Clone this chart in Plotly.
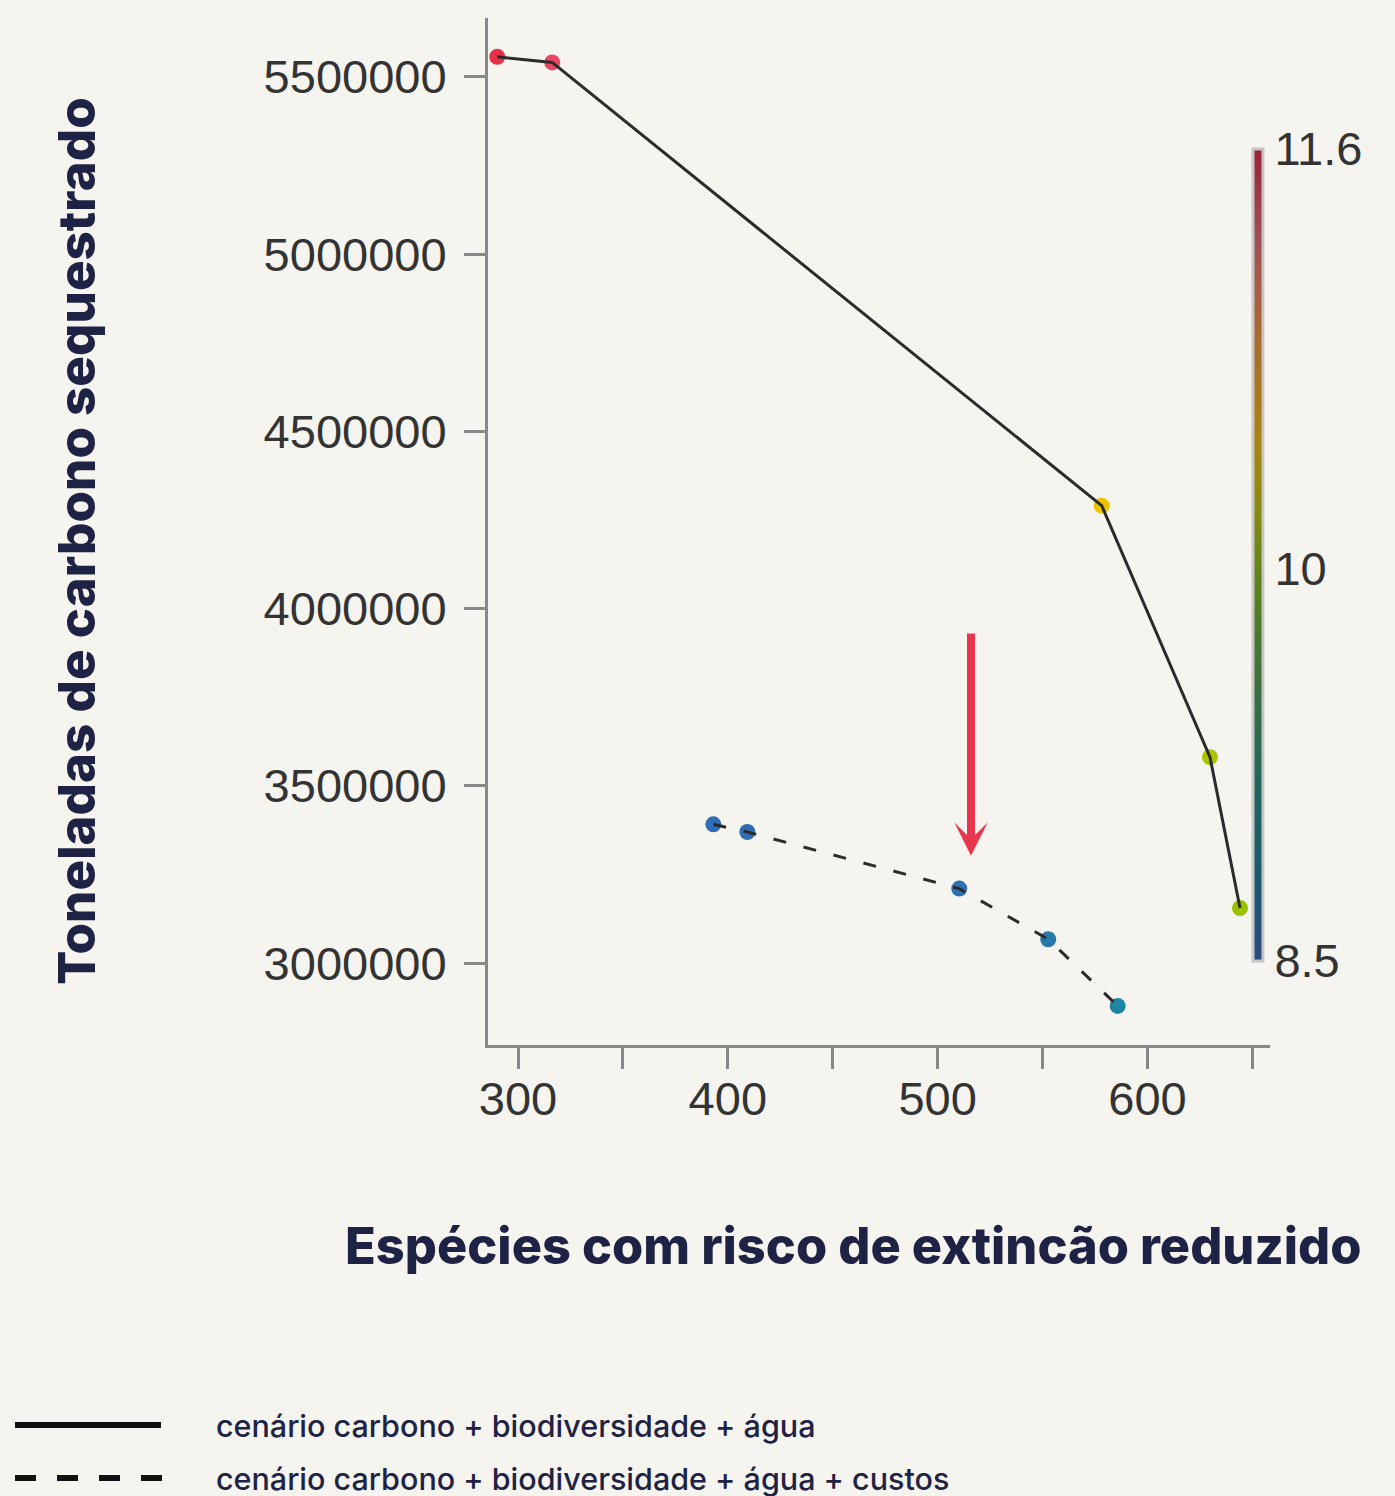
import plotly.graph_objects as go

# ---------------- data ----------------
solid_x = [290.1, 316.3, 578.2, 629.8, 644.1]
solid_y = [5556400, 5540600, 4290400, 3581000, 3155300]
solid_colors = ["#e8304a", "#ea4562", "#eec400", "#abc400", "#98c100"]

dash_x = [393.1, 409.3, 510.3, 552.7, 585.8]
dash_y = [3391500, 3369800, 3210200, 3067300, 2879200]
dash_colors = ["#2f6cb5", "#2f6cb5", "#2d71b3", "#2878ab", "#1c86a2"]

color_min, color_max = 8.5, 11.6
color_ticks = [8.5, 10, 11.6]
color_ticktext = ["8.5", "10", "11.6"]

x_range = [285.7, 658.4]
y_range = [2769000, 5666000]
x_ticks = [300, 400, 500, 600]
y_ticks = [3000000, 3500000, 4000000, 4500000, 5000000, 5500000]

arrow_x = 515.9
arrow_tail_y = 3934300
arrow_tip_y = 3302700

x_title = "Espécies com risco de extincão reduzido"
y_title = "Toneladas de carbono sequestrado"
legend_labels = ["cenário carbono + biodiversidade + água",
                 "cenário carbono + biodiversidade + água + custos"]

colorscale = [
    [0.0, "#2b4b7e"], [0.10, "#1c5870"], [0.18, "#1e6262"], [0.26, "#2a6a52"],
    [0.34, "#3a7040"], [0.42, "#4e7c28"], [0.50, "#6e8418"], [0.56, "#8a8a10"],
    [0.64, "#a88410"], [0.72, "#a87424"], [0.80, "#a8643a"], [0.89, "#9e5058"],
    [1.0, "#9a2436"],
]

# ---------------- layout geometry ----------------
W, H = 1395, 1496
L, R, T, B = 488, 125, 18, 451
PW, PH = W - L - R, H - T - B


def px(xp):
    return (xp - L) / PW


def py(yp):
    return (H - B - yp) / PH


BG = "#f5f4ef"
NAVY = "#1e2345"
TICK_FONT = dict(family="Liberation Sans, Arial", size=47, color="#333333")

fig = go.Figure()

fig.add_trace(go.Scatter(x=solid_x, y=solid_y, mode="markers",
                         marker=dict(size=16, color=solid_colors), showlegend=False,
                         hoverinfo="skip"))
fig.add_trace(go.Scatter(x=dash_x, y=dash_y, mode="markers",
                         marker=dict(size=16, color=dash_colors), showlegend=False,
                         hoverinfo="skip"))
fig.add_trace(go.Scatter(x=solid_x, y=solid_y, mode="lines",
                         line=dict(color="#2b2b2b", width=3), showlegend=False,
                         name=legend_labels[0]))
fig.add_trace(go.Scatter(x=dash_x, y=dash_y, mode="lines",
                         line=dict(color="#2b2b2b", width=3, dash="13px,18px"),
                         showlegend=False, name=legend_labels[1]))

# colorbar
fig.add_trace(go.Scatter(
    x=[None, None], y=[None, None], mode="markers", showlegend=False,
    marker=dict(color=[color_min, color_max], cmin=color_min, cmax=color_max,
                colorscale=colorscale, showscale=True,
                colorbar=dict(
                    x=px(1253), xanchor="left", xpad=0, ypad=0,
                    y=py(555), yanchor="middle",
                    lenmode="pixels", len=812,
                    thicknessmode="pixels", thickness=10,
                    outlinewidth=3, outlinecolor="#c6c6c6",
                    tickvals=color_ticks, ticktext=color_ticktext,
                    ticks="", ticklabelposition="outside",
                    tickfont=TICK_FONT,
                ))))

fig.update_xaxes(range=x_range, tickvals=x_ticks, ticks="outside", ticklen=21,
                 tickwidth=3, tickcolor="#888888", showline=True, linewidth=3,
                 linecolor="#888888", showgrid=False, zeroline=False,
                 tickfont=TICK_FONT, ticklabelstandoff=-10,
                 minor=dict(dtick=50, tick0=300, ticks="outside", ticklen=21,
                            tickwidth=3, tickcolor="#888888", showgrid=False))
fig.update_yaxes(range=y_range, tickvals=y_ticks, tickformat="d", ticks="outside",
                 ticklen=21, tickwidth=3, tickcolor="#888888", showline=True,
                 linewidth=3, linecolor="#888888", showgrid=False, zeroline=False,
                 tickfont=TICK_FONT, ticklabelstandoff=8)

annotations = [
    dict(x=arrow_x, y=arrow_tip_y, ax=arrow_x, ay=arrow_tail_y, xref="x", yref="y",
         axref="x", ayref="y", showarrow=True, text="", arrowhead=3,
         arrowsize=0.7, arrowwidth=8, arrowcolor="#e8364f"),
    dict(text=x_title, x=px(1364), y=py(1245), xref="paper", yref="paper",
         xanchor="right", yanchor="middle", showarrow=False,
         font=dict(family="Inter", size=50.5, color=NAVY, weight=800)),
    dict(text=y_title, x=px(76), y=py(541), xref="paper", yref="paper",
         xanchor="center", yanchor="middle", showarrow=False, textangle=-90,
         font=dict(family="Inter", size=51, color=NAVY, weight=800)),
]
for lbl, yp in zip(legend_labels, [1425, 1478]):
    annotations.append(dict(text=lbl, x=px(214), y=py(yp), xref="paper", yref="paper",
                            xanchor="left", yanchor="middle", showarrow=False,
                            font=dict(family="Inter", size=30.5, color=NAVY, weight=500)))

shapes = [
    dict(type="line", xref="paper", yref="paper", x0=px(15), x1=px(161),
         y0=py(1425), y1=py(1425), line=dict(color="#111111", width=6)),
    dict(type="line", xref="paper", yref="paper", x0=px(15), x1=px(163),
         y0=py(1478), y1=py(1478), line=dict(color="#111111", width=6, dash="21px,21px")),
]

fig.update_layout(width=W, height=H, margin=dict(l=L, r=R, t=T, b=B, pad=0),
                  paper_bgcolor=BG, plot_bgcolor=BG, annotations=annotations,
                  shapes=shapes, showlegend=False)

fig.write_html("out.html", config={"displayModeBar": False},
               post_script="document.body.style.margin='0';")
